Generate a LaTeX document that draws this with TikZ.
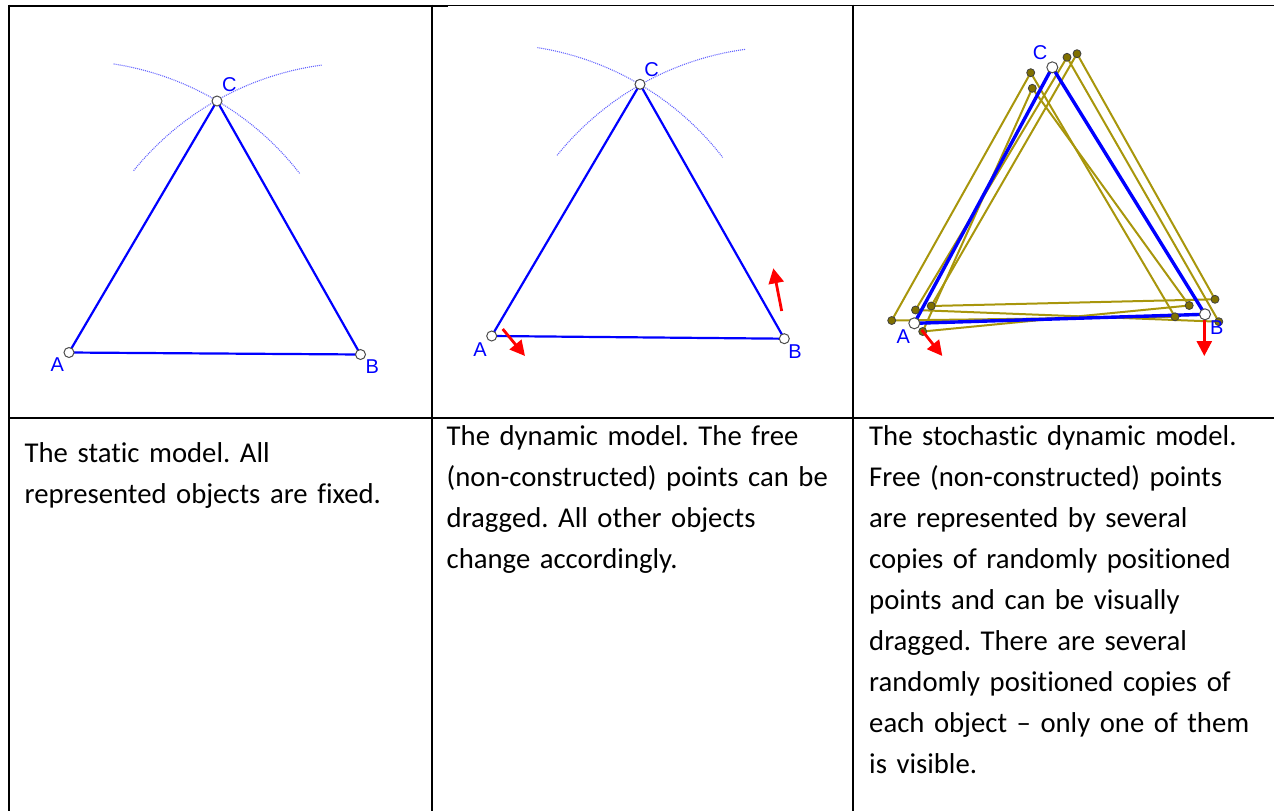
\documentclass[tikz,border=0pt]{standalone}
\usepackage{fontspec}
\setmainfont{Carlito}[Ligatures={TeX,NoCommon}]
\newfontfamily\labelfont{Liberation Sans}
\usetikzlibrary{arrows.meta, positioning}
\definecolor{geoblue}{RGB}{0,0,255}
\definecolor{arcblue}{RGB}{100,100,255}
\definecolor{geoolive}{RGB}{168,150,12}
\definecolor{dotolive}{RGB}{128,112,0}
\definecolor{dragred}{RGB}{255,0,0}
\frenchspacing

\begin{document}
\begin{tikzpicture}[
    x=1pt, y=-1pt,
    rule/.style={
        line width=2pt,
        black
    },
    tri/.style={
        geoblue,
        line width=2.2pt,
        line join=round
    },
    arcline/.style={
        arcblue,
        line width=1.1pt,
        dash pattern=on 1pt off 1pt
    },
    copyline/.style={
        geoolive,
        line width=2pt
    },
    pt/.style={
        circle,
        draw=black!70,
        fill=white,
        inner sep=0pt,
        minimum size=10pt,
        line width=1pt
    },
    copypt/.style={
        circle,
        draw=black!75,
        fill=dotolive,
        inner sep=0pt,
        minimum size=8pt,
        line width=0.8pt
    },
    lbl/.style={
        text=geoblue,
        font=\labelfont\fontsize{20}{20}\selectfont,
        inner sep=0pt
    },
    drag/.style={
        -{Triangle[length=15pt,width=15pt]},
        dragred,
        line width=2.8pt
    },
    cell/.style={
        anchor=base west,
        align=left,
        text width=405pt,
        inner sep=0pt,
        font=\fontsize{28.7}{41}\selectfont
    }
]
\useasboundingbox (0,0) rectangle (1274,811);

% Table
\draw[rule] (8,5.5) -- (448,5.5);
\draw[rule, line width=1pt] (448,5.5) -- (1274,5.5);
\draw[rule] (9,4.5) -- (9,811);
\draw[rule] (431.5,4.5) -- (431.5,811);
\draw[rule] (852.5,4.5) -- (852.5,811);
\draw[rule] (8,418) -- (1274,418);

% Static model
\coordinate (A1) at (69,352.5);
\coordinate (B1) at (360.5,354.5);
\coordinate (C1) at (217,101);
\draw[arcline] (A1) ++(-81.2:292) arc[start angle=-81.2, end angle=-37.7, radius=292];
\draw[arcline] (B1) ++(-141:292) arc[start angle=-141, end angle=-97.6, radius=292];
\draw[tri] (A1) -- (B1) -- (C1) -- cycle;
\node[pt] (pA1) at (A1) {};
\node[pt] (pB1) at (B1) {};
\node[pt] (pC1) at (C1) {};
\node[lbl] (lA1) at (57.3,365) {A};
\node[lbl] (lB1) at (372.3,366.7) {B};
\node[lbl] (lC1) at (229.3,85) {C};

% Dynamic model
\coordinate (A2) at (491.7,336);
\coordinate (B2) at (784.3,338.7);
\coordinate (C2) at (640,84.3);
\draw[arcline] (A2) ++(-81:292) arc[start angle=-81, end angle=-37.7, radius=292];
\draw[arcline] (B2) ++(-141.1:292) arc[start angle=-141.1, end angle=-97.7, radius=292];
\draw[tri] (A2) -- (B2) -- (C2) -- cycle;
\coordinate (a2s) at (502.7,329);
\coordinate (a2e) at (525,356);
\coordinate (b2s) at (781.7,311);
\coordinate (b2e) at (773.3,268.3);
\draw[drag] (a2s) -- (a2e);
\draw[drag] (b2s) -- (b2e);
\node[pt] (pA2) at (A2) {};
\node[pt] (pB2) at (B2) {};
\node[pt] (pC2) at (C2) {};
\node[lbl] (lA2) at (480,350) {A};
\node[lbl] (lB2) at (795,351.7) {B};
\node[lbl] (lC2) at (651.7,69.3) {C};

% Stochastic dynamic model
\coordinate (T1) at (1030.7,72.7);
\coordinate (T2) at (1032.3,88.3);
\coordinate (T3) at (1067,57.3);
\coordinate (T4) at (1077,53.7);
\coordinate (L1) at (891.7,320.5);
\coordinate (L2) at (915.5,310);
\coordinate (L3) at (931.2,306);
\coordinate (L4) at (922.7,331.5);
\coordinate (R1) at (1175,316.8);
\coordinate (R2) at (1189.2,305.5);
\coordinate (R3) at (1215,299.3);
\coordinate (R4) at (1218.8,321.7);
\draw[copyline] (T1) -- (L1) -- (R1) -- cycle;
\draw[copyline] (T2) -- (L4) -- (R2) -- cycle;
\draw[copyline] (T3) -- (L2) -- (R4) -- cycle;
\draw[copyline] (T4) -- (L3) -- (R3) -- cycle;
\coordinate (A3) at (914.3,323.3);
\coordinate (B3) at (1205,314.3);
\coordinate (C3) at (1052.3,67.3);
\draw[tri, line width=3.4pt] (A3) -- (B3) -- (C3) -- cycle;
\foreach \p in {T1,T2,T3,T4,L1,L2,L3,L4,R1,R2,R3,R4}
    \node[copypt] (d\p) at (\p) {};
\coordinate (a3s) at (921.7,330);
\coordinate (a3e) at (942.3,356);
\coordinate (b3s) at (1204.3,320);
\coordinate (b3e) at (1204.3,356);
\draw[drag] (a3s) -- (a3e);
\draw[drag] (b3s) -- (b3e);
\node[pt, minimum size=11pt] (pA3) at (A3) {};
\node[pt, minimum size=11pt] (pB3) at (B3) {};
\node[pt, minimum size=11pt] (pC3) at (C3) {};
\node[lbl] (lA3) at (903.3,336.7) {A};
\node[lbl] (lB3) at (1216.7,327.3) {B};
\node[lbl] (lC3) at (1040,52.7) {C};

% Captions
\node[cell] (static) at (24.5,462) {The static model. All\\represented objects are fixed.};
\node[cell] (dynamic) at (446.5,445) {The dynamic model. The free\\(non-constructed) points can be\\dragged. All other objects\\change accordingly.};
\node[cell] (stochastic) at (869,445) {The stochastic dynamic model.\\Free (non-constructed) points\\are represented by several\\copies of randomly positioned\\points and can be visually\\dragged. There are several\\randomly positioned copies of\\each object -- only one of them\\is visible.};

\end{tikzpicture}
\end{document}
